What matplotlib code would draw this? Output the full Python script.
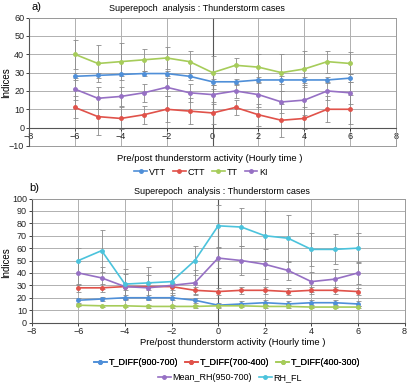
import numpy as np
import matplotlib
matplotlib.use("Agg")
import matplotlib.pyplot as plt

plt.rcParams['font.family'] = ['Liberation Sans', 'DejaVu Sans']

# ---------------- data ----------------
hours = [-6, -5, -4, -3, -2, -1, 0, 1, 2, 3, 4, 5, 6]

# panel a
vtt = [28, 28.5, 29, 29.5, 29.5, 28, 25, 25, 26, 26, 26, 26, 27]
vtt_err = [2, 1.5, 1, 1.5, 1.5, 2, 1.5, 1.5, 1.5, 2, 1.5, 1.5, 2]
ctt = [11, 6, 5, 7, 10, 9, 8, 11, 7, 4, 5, 10, 10]
ctt_err = [6, 10, 6, 5, 7, 7, 6, 4, 6, 9, 6, 7, 8]
tt = [40, 35, 36, 37, 38, 36, 30, 34, 33, 30, 32, 36, 35]
tt_err = [8, 10, 10, 6, 6, 6, 9, 4, 7, 10, 10, 6, 6]
ki = [21, 16, 17, 19, 22, 19, 18, 20, 18, 14, 15, 20, 19]
ki_err = [6, 6, 5, 5, 5, 5, 5, 4, 7, 6, 8, 5, 6]

# panel b
td_900_700 = [18, 19, 20, 20, 20, 18, 14, 15, 16, 15, 16, 16, 15]
td_900_700_err = [2, 2, 2, 2, 2, 2, 2, 2, 2, 2, 2, 2, 2]
td_700_400 = [28, 28, 29, 29, 29, 26, 25, 26, 26, 25, 26, 26, 25]
td_700_400_err = [3, 3, 3, 3, 3, 3, 3, 3, 3, 3, 3, 3, 3]
td_400_300 = [14, 13.5, 13.5, 13, 13, 13, 13.5, 13.5, 13, 13, 12.5, 12.5, 12.5]
td_400_300_err = [1, 1, 1, 1, 1, 1, 1, 1, 1, 1, 1, 1, 1]
mean_rh = [40, 36, 29, 28, 30, 32, 52, 50, 47, 42, 33, 35, 40]
mean_rh_err = [10, 9, 10, 10, 10, 10, 8, 12, 12, 8, 8, 8, 9]
rh_fl = [50, 58, 31, 32, 33, 50, 78, 77, 70, 68, 59, 59, 60]
rh_fl_err = [10, 17, 12, 13, 9, 12, 17, 15, 20, 19, 13, 12, 12]

# colours
cBlue = '#4f8fd8'
cRed = '#e0524a'
cGreen = '#a6cc5a'
cPurple = '#9670c4'
cCyan = '#4bc3dc'
errColor = '#8c8c8c'

fig = plt.figure(figsize=(4.07, 3.84), dpi=100)

axA = fig.add_axes([0.0713, 0.620, 0.902, 0.334])
axB = fig.add_axes([0.078, 0.160, 0.916, 0.323])


def styleAxis(ax, ymin, ymax):
    ax.set_xlim(-8, 8)
    ax.set_ylim(ymin, ymax)
    ax.set_xticks(range(-8, 9, 2))
    ax.set_yticks(range(ymin, ymax + 1, 10))
    ax.grid(True, color='#b0b0b0', lw=0.7)
    ax.set_axisbelow(True)
    ax.tick_params(labelsize=6.5, length=2, width=0.6, pad=1.5, colors='#222222')
    for s in ['top', 'right']:
        ax.spines[s].set_color('#9a9a9a')
        ax.spines[s].set_linewidth(0.7)
    ax.spines['left'].set_color('#555555')
    ax.spines['left'].set_linewidth(0.8)
    ax.spines['bottom'].set_color('#555555')
    ax.spines['bottom'].set_linewidth(0.8)
    ax.axvline(0, color='#555555', lw=0.8, zorder=1)


def drawSeries(ax, vals, errs, color, label):
    ax.errorbar(hours, vals, yerr=errs, fmt='none', ecolor=errColor,
                elinewidth=0.6, capsize=1.8, capthick=0.6, zorder=2)
    line, = ax.plot(hours, vals, color=color, lw=1.2, marker='o',
                    markersize=2.5, label=label, zorder=3)
    return line


legKw = dict(loc='center', frameon=False, fontsize=6.5, handlelength=1.4,
             handletextpad=0.2, columnspacing=0.8, borderpad=0)

# ---- panel a ----
styleAxis(axA, -10, 60)
axA.spines['bottom'].set_position(('data', 0))
# keep a plain line at the real bottom of the plot area
axA.axhline(-10, color='#9a9a9a', lw=0.7, clip_on=False)
hA = [drawSeries(axA, vtt, vtt_err, cBlue, 'VTT'),
      drawSeries(axA, ctt, ctt_err, cRed, 'CTT'),
      drawSeries(axA, tt, tt_err, cGreen, 'TT'),
      drawSeries(axA, ki, ki_err, cPurple, 'KI')]

fig.text(0.078, 0.982, 'a)', fontsize=8, ha='left', va='center')
fig.text(0.484, 0.977, 'Superepoch  analysis : Thunderstorm cases',
         fontsize=6.5, ha='center', va='center')
fig.text(0.015, 0.786, 'Indices', fontsize=7, rotation=90, ha='center', va='center')
fig.text(0.516, 0.586, 'Pre/post thunderstorm activity (Hourly time )',
         fontsize=6.8, ha='center', va='center')
fig.legend(handles=hA, bbox_to_anchor=(0.494, 0.552), ncol=4, **legKw)

# ---- panel b ----
styleAxis(axB, 0, 100)
hB = [drawSeries(axB, td_900_700, td_900_700_err, cBlue, 'T_DIFF(900-700)'),
      drawSeries(axB, td_700_400, td_700_400_err, cRed, 'T_DIFF(700-400)'),
      drawSeries(axB, td_400_300, td_400_300_err, cGreen, 'T_DIFF(400-300)'),
      drawSeries(axB, mean_rh, mean_rh_err, cPurple, 'Mean_RH(950-700)'),
      drawSeries(axB, rh_fl, rh_fl_err, cCyan, 'RH_FL')]

fig.text(0.073, 0.51, 'b)', fontsize=8, ha='left', va='center')
fig.text(0.546, 0.500, 'Superepoch  analysis : Thunderstorm cases',
         fontsize=6.5, ha='center', va='center')
fig.text(0.015, 0.315, 'Indices', fontsize=7, rotation=90, ha='center', va='center')
fig.text(0.571, 0.107, 'Pre/post thunderstorm activity (Hourly time )',
         fontsize=6.8, ha='center', va='center')
leg1 = fig.legend(handles=hB[:3], bbox_to_anchor=(0.558, 0.055), ncol=3, **legKw)
fig.add_artist(leg1)
fig.legend(handles=hB[3:], bbox_to_anchor=(0.565, 0.016), ncol=2, **legKw)

fig.savefig('out.png', dpi=100)
